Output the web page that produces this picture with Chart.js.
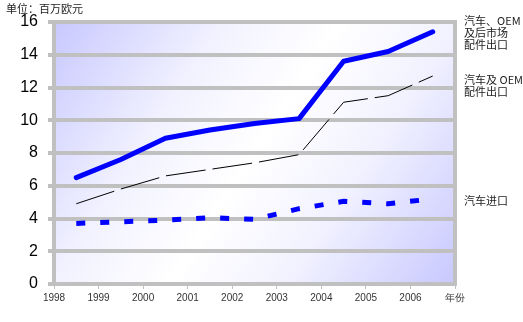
<!DOCTYPE html>
<html>
<head>
<meta charset="utf-8">
<script src="https://cdn.jsdelivr.net/npm/chart.js@4/dist/chart.umd.min.js"></script>
<style>
  html, body { margin: 0; padding: 0; background: #fff; }
  #wrap { width: 523px; height: 322px; position: relative; }
</style>
</head>
<body>
<div id="wrap"><canvas id="trade"></canvas></div>
<script>
// ===== data (百万欧元) =====
let years = [1998.5, 1999.5, 2000.5, 2001.5, 2002.5, 2003.5, 2004.5, 2005.5, 2006.5];
let exportAll = [6.5, 7.6, 8.9, 9.4, 9.8, 10.1, 13.6, 14.2, 15.4];   // 汽车、OEM及后市场配件出口
let exportOem = [4.9, 5.8, 6.6, 7.0, 7.4, 7.9, 11.1, 11.5, 12.7];    // 汽车及OEM配件出口
let importCar = [3.7, 3.8, 3.9, 4.05, 3.95, 4.6, 5.05, 4.9, 5.2];    // 汽车进口
let yTicks = [0, 2, 4, 6, 8, 10, 12, 14, 16];
let xTicks = [1998, 1999, 2000, 2001, 2002, 2003, 2004, 2005, 2006, 2007];
let xLastLabel = '年份';
let unitLabel = '单位：百万欧元';
let seriesLabels = [
    ['汽车、OEM', '及后市场', '配件出口'],
    ['汽车及 OEM', '配件出口'],
    ['汽车进口']
];

const GRID = '#c0c0c0';
const CJK = '"Noto Sans CJK SC", sans-serif';

function points(vals){
    return vals.map((v, i) => ({x: years[i], y: v}));
}

// background gradient, right frame line, unit text and series notes
const decor = {
    id: 'decor',
    beforeDraw(chart){
        const {ctx, chartArea: a} = chart;
        const g = ctx.createLinearGradient(a.left, a.top, a.right, a.bottom);
        g.addColorStop(0, '#c8c8ff');
        g.addColorStop(0.3, '#f2f2ff');
        g.addColorStop(0.5, '#ffffff');
        g.addColorStop(0.7, '#f2f2ff');
        g.addColorStop(1, '#c8c8ff');
        ctx.save();
        ctx.fillStyle = g;
        ctx.fillRect(a.left, a.top, a.right - a.left, a.bottom - a.top);
        ctx.restore();
    },
    beforeDatasetsDraw(chart){
        const {ctx, chartArea: a} = chart;
        ctx.save();
        ctx.strokeStyle = GRID;
        ctx.lineWidth = 4;
        ctx.beginPath();
        ctx.moveTo(a.right, a.top - 2);
        ctx.lineTo(a.right, a.bottom + 2);
        ctx.stroke();
        ctx.restore();
    },
    afterDraw(chart){
        const {ctx, chartArea: a} = chart;
        ctx.save();
        ctx.fillStyle = '#222';
        ctx.font = '11px ' + CJK;
        ctx.textBaseline = 'middle';
        ctx.textAlign = 'left';
        ctx.fillText(unitLabel, 6, 9);
        const tops = [20.5, 80, 200.5];
        seriesLabels.forEach((lines, k) => {
            lines.forEach((t, j) => ctx.fillText(t, a.right + 9, tops[k] + j * 12));
        });
        ctx.restore();
    }
};

const ctx = document.getElementById('trade').getContext('2d');
const tradeChart = new Chart(ctx, {
    type: 'line',
    data: {
        datasets: [
            {
                label: seriesLabels[2].join(''),
                data: points(importCar),
                borderColor: '#0000ff',
                borderWidth: 5,
                borderDash: [9, 15],
                borderCapStyle: 'butt',
                tension: 0
            },
            {
                label: seriesLabels[1].join(''),
                data: points(exportOem),
                borderColor: '#000000',
                borderWidth: 1,
                borderDash: [40, 7],
                tension: 0
            },
            {
                label: seriesLabels[0].join(''),
                data: points(exportAll),
                borderColor: '#0000ff',
                borderWidth: 5,
                borderCapStyle: 'round',
                borderJoinStyle: 'round',
                tension: 0
            }
        ]
    },
    options: {
        responsive: true,
        maintainAspectRatio: false,
        animation: false,
        layout: { padding: { top: 22, right: 68, left: 0, bottom: 0 } },
        elements: { point: { radius: 0 } },
        plugins: {
            legend: { display: false },
            tooltip: { enabled: false }
        },
        scales: {
            x: {
                type: 'linear',
                min: xTicks[0],
                max: xTicks[xTicks.length - 1],
                afterFit(s){ s.height = 38; },
                afterBuildTicks(s){ s.ticks = xTicks.map(v => ({value: v})); },
                ticks: {
                    autoSkip: false,
                    maxRotation: 0,
                    padding: 3,
                    color: '#333',
                    font: { family: 'Liberation Sans, sans-serif', size: 10 },
                    callback: v => v === xTicks[xTicks.length - 1] ? xLastLabel : String(v)
                },
                grid: {
                    drawOnChartArea: false,
                    drawTicks: true,
                    tickLength: 5,
                    tickWidth: 1,
                    tickColor: GRID,
                    lineWidth: 1
                },
                border: { color: GRID, width: 4 }
            },
            y: {
                min: yTicks[0],
                max: yTicks[yTicks.length - 1],
                afterFit(s){ s.width = 54; },
                afterBuildTicks(s){ s.ticks = yTicks.map(v => ({value: v})); },
                ticks: {
                    padding: 10,
                    color: '#000',
                    font: { family: 'Liberation Sans, sans-serif', size: 16 }
                },
                grid: {
                    color: GRID,
                    lineWidth: 4,
                    tickLength: 6
                },
                border: { color: GRID, width: 4 }
            }
        }
    },
    plugins: [decor]
});
</script>
</body>
</html>
